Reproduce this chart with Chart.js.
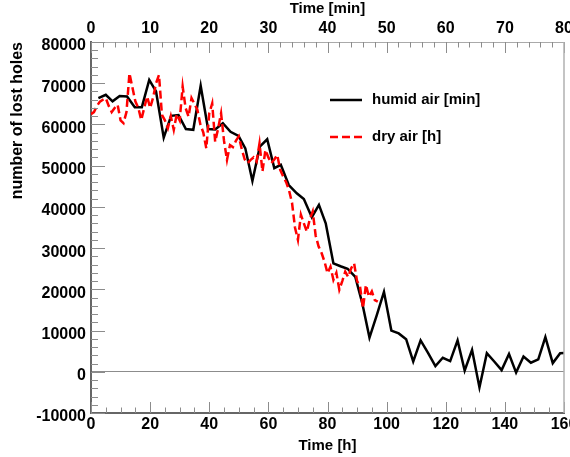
<!DOCTYPE html>
<html>
<head>
<meta charset="utf-8">
<script src="https://cdn.jsdelivr.net/npm/chart.js@4.4.1/dist/chart.umd.min.js"></script>
<style>
  body { margin: 0; background: #fff; }
  #wrap { width: 570px; height: 457px; }
</style>
</head>
<body>
<div id="wrap"><canvas id="lostChart"></canvas></div>
<script>
// humid air, time in minutes (top axis)
const humidMin = [1.25, 2.5, 3.65, 4.85, 6.1, 7.4, 8.6, 9.85, 11.0, 12.3, 13.55, 14.8, 16.05, 17.3, 18.55, 19.8,
  21.0, 22.3, 23.6, 24.95, 26.1, 27.3, 28.55, 29.8, 31.0, 32.1, 33.45, 34.8, 36.0, 37.35, 38.55, 39.7,
  41.0, 42.2, 43.4, 44.7, 45.9, 47.1, 48.35, 49.55, 50.8, 52.05, 53.3, 54.5, 55.75, 57.0, 58.25, 59.5,
  60.75, 62.0, 63.2, 64.45, 65.7, 66.95, 68.2, 69.45, 70.7, 71.9, 73.15, 74.4, 75.65, 76.85, 78.1, 79.35, 80.6];
const humidHoles = [66400, 67200, 65600, 66900, 66800, 64200, 64200, 70800, 68000, 56800, 62100, 62300, 58900, 58700, 69400, 58900,
  58800, 60300, 58200, 57200, 54200, 46300, 54600, 56400, 49400, 50200, 45300, 43300, 41900, 37500, 40500, 36000,
  26300, 25600, 25000, 23000, 16500, 8300, 13800, 19400, 10000, 9300, 7900, 2500, 7600, 4600, 1400, 3400,
  2600, 7600, 300, 5300, -3800, 4500, 2500, 400, 4300, -200, 3700, 2200, 3000, 8400, 2100, 4500, 4600];

// dry air, time in hours (bottom axis)
const dryHours = [];
for (let h = 0; h <= 97; h++) dryHours.push(h);
const dryHoles = [62500, 63000, 64500, 65500, 66000, 66400, 64500, 63000, 64000, 64800,
  61000, 60300, 63000, 72400, 69000, 65600, 64000, 61100, 64000, 66800,
  64000, 66500, 70000, 72000, 62300, 61000, 59100, 62000, 58700, 62500,
  61000, 69200, 64000, 61900, 66400, 65000, 63500, 60000, 58000, 54200,
  62700, 65100, 55800, 59000, 62700, 56000, 51400, 55000, 54500, 56000,
  57100, 54000, 51500, 50600, 51400, 52000, 51000, 55400, 48600, 53800,
  52000, 50600, 51500, 52600, 49000, 47400, 46000, 44000, 41000, 35000,
  32000, 38100, 36000, 34000, 37000, 38900, 33000, 30400, 28800, 26700,
  23900, 25500, 22300, 24000, 19900, 22000, 24300, 23000, 25100, 26300,
  22000, 20700, 15400, 21100, 18200, 19500, 17400, 17000];

const FONT = 'Liberation Sans, Arial, sans-serif';
const tickFont = { family: FONT, size: 16, weight: 'bold' };
const titleFont = { family: FONT, size: 15, weight: 'bold' };

function toPoints(xs, ys) {
  return xs.map((x, i) => ({ x: x, y: ys[i] }));
}

// ROOT style ticks pointing into the frame
const innerTicks = {
  id: 'innerTicks',
  afterDraw(chart) {
    const { ctx, chartArea: a, scales } = chart;
    ctx.save();
    ctx.strokeStyle = '#8c8c8c';
    ctx.lineWidth = 1;
    const mark = (scale, step, len, side) => {
      for (let v = scale.min; v <= scale.max + 1e-9; v += step) {
        const p = Math.round(scale.getPixelForValue(v)) + 0.5;
        ctx.beginPath();
        if (side === 'bottom') { ctx.moveTo(p, a.bottom); ctx.lineTo(p, a.bottom - len); }
        if (side === 'top') { ctx.moveTo(p, a.top); ctx.lineTo(p, a.top + len); }
        if (side === 'left') { ctx.moveTo(a.left, p); ctx.lineTo(a.left + len, p); }
        ctx.stroke();
      }
    };
    mark(scales.x, 5, 5.5, 'bottom');
    mark(scales.x, 20, 11, 'bottom');
    mark(scales.xTop, 2, 5.5, 'top');
    mark(scales.xTop, 10, 11, 'top');
    mark(scales.y, 2000, 7, 'left');
    mark(scales.y, 10000, 14, 'left');
    // right frame line
    ctx.strokeStyle = '#b0b0b0';
    ctx.lineWidth = 1.5;
    ctx.beginPath();
    ctx.moveTo(a.right, a.top);
    ctx.lineTo(a.right, a.bottom);
    ctx.stroke();
    ctx.restore();
  }
};

// legend inside the frame
const frameLegend = {
  id: 'frameLegend',
  afterDraw(chart) {
    const ctx = chart.ctx;
    ctx.save();
    ctx.font = 'bold 15px ' + FONT;
    ctx.textBaseline = 'middle';
    ctx.fillStyle = '#000';
    const rows = [{ ds: chart.data.datasets[0], y: 100 }, { ds: chart.data.datasets[1], y: 137 }];
    rows.forEach(r => {
      ctx.strokeStyle = r.ds.borderColor;
      ctx.lineWidth = r.ds.borderWidth;
      ctx.setLineDash(r.ds.borderDash || []);
      ctx.beginPath();
      ctx.moveTo(330, r.y);
      ctx.lineTo(362, r.y);
      ctx.stroke();
      ctx.setLineDash([]);
      ctx.fillText(r.ds.label, 372, r.y);
    });
    ctx.restore();
  }
};

function noPad(scale) {
  scale.paddingLeft = 0;
  scale.paddingRight = 0;
  scale.paddingTop = 0;
  scale.paddingBottom = 0;
}

const plain = v => String(v);

const ctx = document.getElementById('lostChart').getContext('2d');
const chart = new Chart(ctx, {
  type: 'line',
  data: {
    datasets: [
      {
        label: 'humid air [min]',
        data: toPoints(humidMin, humidHoles),
        xAxisID: 'xTop',
        borderColor: '#000',
        borderWidth: 2.5,
        pointRadius: 0,
        tension: 0,
        clip: 0,
        order: 2
      },
      {
        label: 'dry air [h]',
        data: toPoints(dryHours, dryHoles),
        xAxisID: 'x',
        borderColor: '#ff0000',
        borderWidth: 2.5,
        borderDash: [8, 4],
        pointRadius: 0,
        tension: 0,
        clip: 0,
        order: 1
      }
    ]
  },
  options: {
    responsive: true,
    maintainAspectRatio: false,
    animation: false,
    layout: { padding: { left: 0, right: 6, top: 0, bottom: 0 } },
    plugins: {
      legend: { display: false },
      tooltip: { enabled: false }
    },
    scales: {
      x: {
        type: 'linear',
        position: 'bottom',
        min: 0,
        max: 160,
        ticks: { stepSize: 20, font: tickFont, color: '#000', padding: 1.5, maxRotation: 0, callback: plain },
        grid: { display: false, drawTicks: false },
        border: { display: true, color: '#666', width: 2 },
        title: { display: true, text: 'Time [h]', font: titleFont, color: '#000', padding: { top: 0, bottom: 2 } },
        afterFit(scale) { scale.height = 44; noPad(scale); }
      },
      xTop: {
        type: 'linear',
        position: 'top',
        min: 0,
        max: 80,
        ticks: { stepSize: 10, font: tickFont, color: '#000', padding: 4, maxRotation: 0, callback: plain },
        grid: { display: false, drawTicks: false },
        border: { display: true, color: '#aaa', width: 1 },
        title: { display: true, text: 'Time [min]', font: titleFont, color: '#000', padding: { top: 0, bottom: 0 } },
        afterFit(scale) { scale.height = 42; noPad(scale); }
      },
      y: {
        type: 'linear',
        position: 'left',
        min: -10000,
        max: 80000,
        ticks: { stepSize: 10000, font: tickFont, color: '#000', padding: 5, labelOffset: 4, callback: plain },
        grid: {
          drawTicks: false,
          color: c => (c.tick && c.tick.value === 0 ? '#8c8c8c' : 'rgba(0,0,0,0)'),
          lineWidth: 1
        },
        border: { display: true, color: '#666', width: 2 },
        title: {
          display: true,
          text: 'number of lost holes',
          align: 'end',
          font: { family: FONT, size: 16, weight: 'bold' },
          color: '#000',
          padding: { top: 8, bottom: 0 }
        },
        afterFit(scale) { scale.width = 91; noPad(scale); }
      }
    }
  },
  plugins: [innerTicks, frameLegend]
});
</script>
</body>
</html>
